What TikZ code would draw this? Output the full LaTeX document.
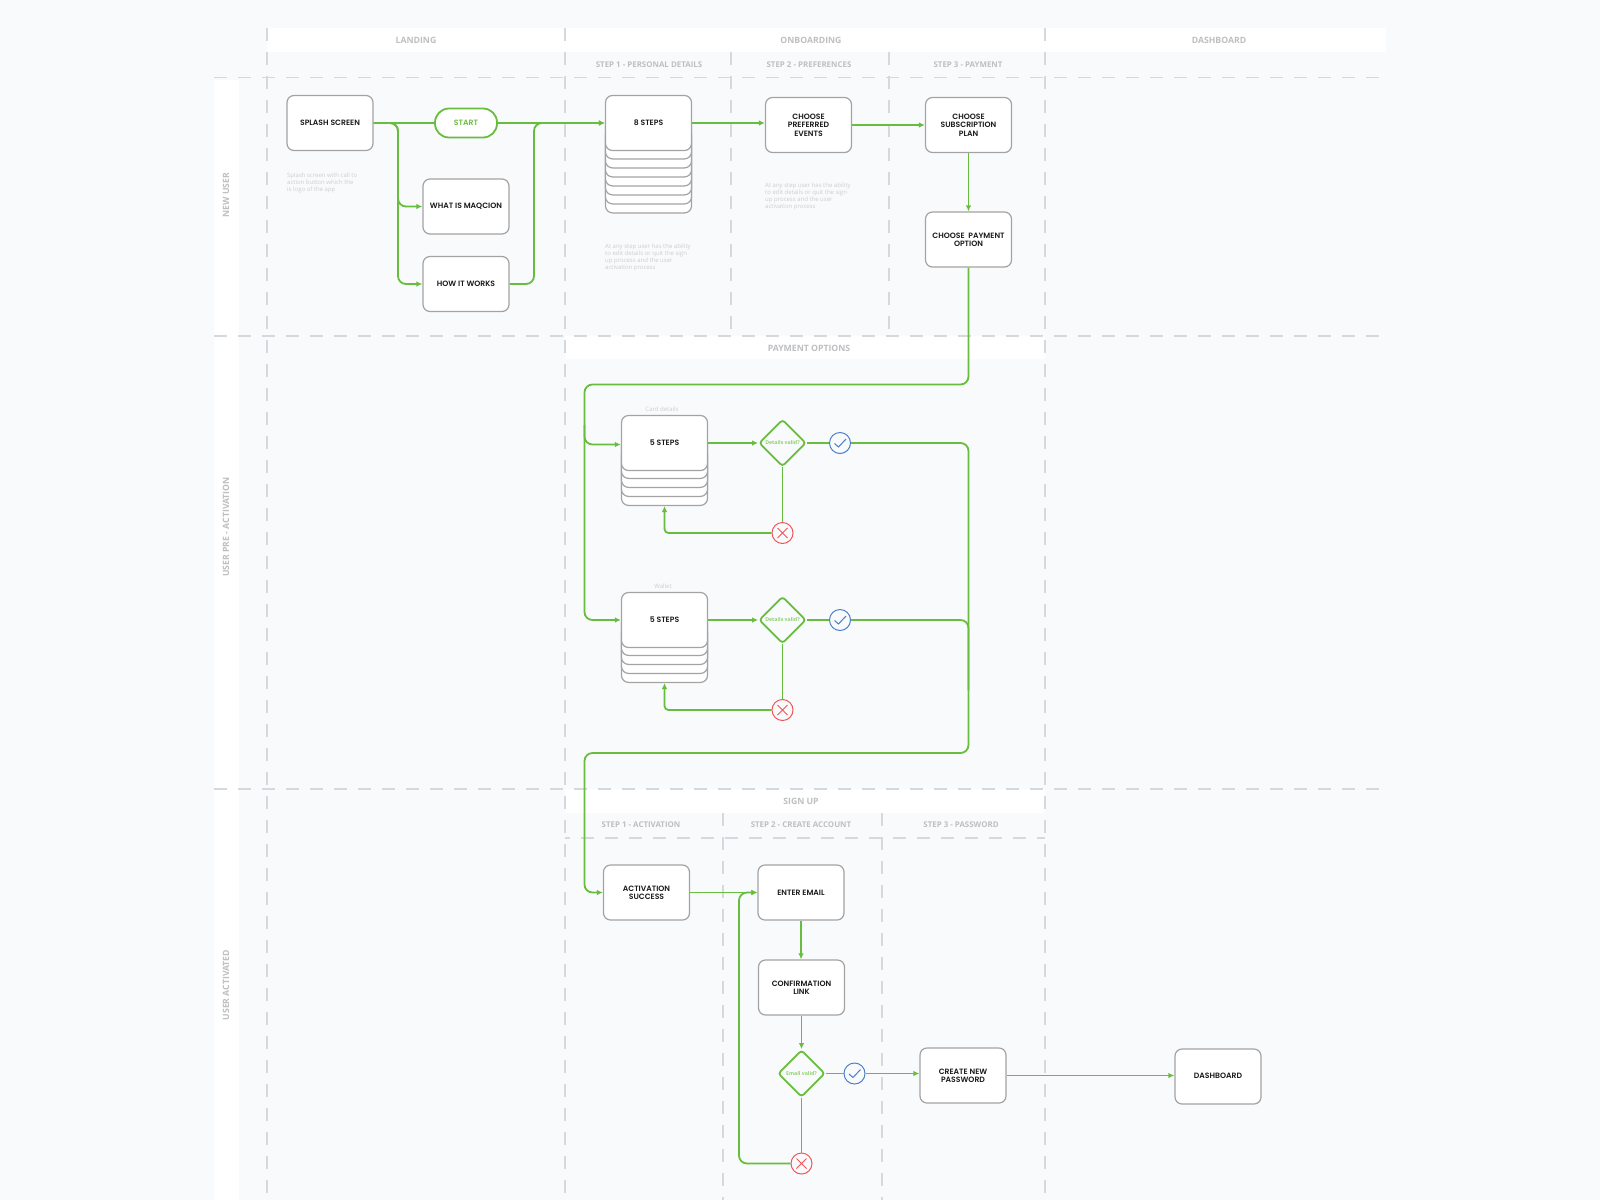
\documentclass[tikz,border=0pt]{standalone}
\usepackage{fontspec}
\setmainfont{Open Sans}
\newfontfamily\boxfont{Poppins}[BoldFont={Poppins SemiBold}]
\usetikzlibrary{arrows.meta,shapes.geometric}
\definecolor{bgc}{HTML}{F9FAFC}
\definecolor{dashc}{HTML}{D6D8DB}
\definecolor{headc}{HTML}{BDBFC1}
\definecolor{descc}{HTML}{CBCDCF}
\definecolor{edgec}{HTML}{A3A3A3}
\definecolor{flowc}{HTML}{68BD3E}
\definecolor{flowl}{HTML}{8FD06E}
\definecolor{bluec}{HTML}{4A7FCB}
\definecolor{redc}{HTML}{F0555A}
\tikzset{
  band/.style={fill=white,draw=none},
  guide/.style={draw=dashc,line width=1.2pt,dash pattern=on 13pt off 11pt},
  head/.style={text=headc,font=\fontsize{8.7}{10}\selectfont\bfseries,inner sep=0pt},
  subhead/.style={text=headc,font=\fontsize{7.9}{10}\selectfont\bfseries,inner sep=0pt},
  lanehead/.style={head,rotate=90},
  desc/.style={text=descc,font=\fontsize{6}{7}\selectfont,inner sep=0pt,align=left,anchor=north west},
  smallcap/.style={text=descc,font=\fontsize{6}{7}\selectfont,inner sep=0pt},
  card/.style={draw=edgec,fill=white,line width=1.2pt,rounded corners=7pt,minimum width=86pt,minimum height=55pt,
    inner sep=0pt,align=center,font=\boxfont\fontsize{7.7}{8.3}\selectfont\bfseries,text=black!90},
  plate/.style={draw=edgec,fill=white,line width=1.2pt,rounded corners=7pt,minimum width=86pt,inner sep=0pt},
  pill/.style={draw=flowc,fill=white,line width=1.8pt,rounded corners=14pt,minimum width=62pt,minimum height=29pt,
    inner sep=0pt,text=flowc,font=\boxfont\fontsize{7.7}{9}\selectfont\bfseries},
  decision/.style={diamond,aspect=1,draw=flowc,fill=bgc,line width=1.8pt,rounded corners=3pt,minimum width=47pt,minimum height=47pt,
    inner sep=0pt,text=flowl,font=\fontsize{5.2}{7}\selectfont\bfseries},
  okmark/.style={circle,draw=bluec,fill=bgc,line width=1pt,minimum size=21pt,inner sep=0pt,
    path picture={\draw[bluec,line width=1pt] ([shift={(-5.5,0.5)}]path picture bounding box.center)--++(4,3.5)--++(7.5,-8);}},
  badmark/.style={circle,draw=redc,fill=bgc,line width=1pt,minimum size=21pt,inner sep=0pt,
    path picture={\draw[redc,line width=1pt] ([shift={(-5,-5)}]path picture bounding box.center)--++(10,10) ([shift={(5,-5)}]path picture bounding box.center)--++(-10,10);}},
  flow/.style={draw=flowc,line width=1.8pt,rounded corners=8pt},
  flowto/.style={flow,-{Latex[length=6pt,width=5.5pt]}},
}
\begin{document}
\begin{tikzpicture}[x=1pt,y=-1pt]
\useasboundingbox (0,0) rectangle (1600,1200);
\fill[bgc] (0,0) rectangle (1600,1200);
% bands
\fill[band] (267,28) rectangle (1386,52);
\fill[band] (214,80) rectangle (239,1200);
\fill[band] (565,336) rectangle (1045,359);
\fill[band] (565,789) rectangle (1045,813);
% guides
\draw[guide] (214,77.5) -- (1386,77.5);
\draw[guide] (214,336) -- (1381,336);
\draw[guide] (214,789) -- (1381,789);
\draw[guide,dash phase=8pt] (565,838) -- (1045,838);
\draw[guide] (267,28) -- (267,1200);
\draw[guide] (565,28) -- (565,1200);
\draw[guide] (1045,28) -- (1045,1200);
\draw[guide] (731,52) -- (731,336);
\draw[guide] (889,52) -- (889,336);
\draw[guide] (723,813) -- (723,1200);
\draw[guide] (882,813) -- (882,1200);
% headers
\node[head] (hLanding) at (416,40) {LANDING};
\node[head] (hOnboarding) at (811,40) {ONBOARDING};
\node[head] (hDashboard) at (1219,40) {DASHBOARD};
\node[subhead] (hS1) at (649,65) {STEP 1 - PERSONAL DETAILS};
\node[subhead] (hS2) at (809,65) {STEP 2 - PREFERENCES};
\node[subhead] (hS3) at (968,65) {STEP 3 - PAYMENT};
\node[head] (hPay) at (809,348.5) {PAYMENT OPTIONS};
\node[head] (hSign) at (801,801) {SIGN UP};
\node[subhead] (hA1) at (641,825) {STEP 1 - ACTIVATION};
\node[subhead] (hA2) at (801,825) {STEP 2 - CREATE ACCOUNT};
\node[subhead] (hA3) at (961,825) {STEP 3 - PASSWORD};
\node[lanehead] (lNew) at (226,195) {NEW USER};
\node[lanehead] (lPre) at (226,527) {USER PRE - ACTIVATION};
\node[lanehead] (lAct) at (226,985) {USER ACTIVATED};
% descriptions
\node[desc] (dSplash) at (287,173) {Splash screen with call to\\action button which the\\is logo of the app};
\node[desc] (dSteps) at (605,244) {At any step user has the ability\\to edit details or quit the sign\\up process and the user\\activation process};
\node[desc] (dPref) at (765,182.5) {At any step user has the ability\\to edit details or quit the sign\\up process and the user\\activation process};
\node[smallcap] (cCard) at (662,409) {Card details};
\node[smallcap] (cWallet) at (663,586) {Wallet};
% stacks
\foreach \i/\b in {7/213.5,6/204.5,5/195.5,4/186.5,3/177.5,2/168.5,1/159.5}
  \node[plate,minimum height=40pt,anchor=south] (stackA\i) at (648.5,\b) {};
\foreach \i/\b in {4/506,3/497,2/488,1/479}
  \node[plate,minimum height=40pt,anchor=south] (stackB\i) at (664.5,\b) {};
\foreach \i/\b in {4/683,3/674,2/665,1/656}
  \node[plate,minimum height=40pt,anchor=south] (stackC\i) at (664.5,\b) {};
% cards
\node[card] (splash) at (330,123) {SPLASH SCREEN};
\node[pill] (start) at (466,123) {START};
\node[card] (what) at (466,206.5) {WHAT IS MAQCION};
\node[card] (how) at (466,284) {HOW IT WORKS};
\node[card] (eight) at (648.5,123) {8 STEPS};
\node[card] (pref) at (808.5,125) {CHOOSE\\PREFERRED\\EVENTS};
\node[card] (plan) at (968.5,125) {CHOOSE\\SUBSCRIPTION\\PLAN};
\node[card] (payopt) at (968.5,239.5) {CHOOSE~ PAYMENT\\OPTION};
\node[card] (cardsteps) at (664.5,443) {5 STEPS};
\node[card] (walletsteps) at (664.5,620) {5 STEPS};
\node[card] (activ) at (646.5,892.5) {ACTIVATION\\SUCCESS};
\node[card] (email) at (801,892.5) {ENTER EMAIL};
\node[card] (confirm) at (801.5,987.5) {CONFIRMATION\\LINK};
\node[card] (newpass) at (963,1075.5) {CREATE NEW\\PASSWORD};
\node[card] (dash) at (1218,1076.5) {\raisebox{1.5pt}{DASHBOARD}};
% decisions
\node[decision] (dCardD) at (782.5,443) {Details valid?};
\node[okmark] (okA) at (840,443) {};
\node[badmark] (noA) at (782.5,533) {};
\node[decision] (dWallD) at (782.5,620) {Details valid?};
\node[okmark] (okB) at (840,620) {};
\node[badmark] (noB) at (782.5,710) {};
\node[decision] (dMail) at (801.5,1073.5) {Email valid?};
\node[okmark] (okC) at (854.5,1073.5) {};
\node[badmark] (noC) at (801.5,1163.5) {};
% bus coordinates
\coordinate (busL) at (398,200);
\coordinate (busR) at (534,200);
\coordinate (busPayY) at (800,384.5);
\coordinate (busPayX) at (584.5,500);
\coordinate (busRetX) at (968.5,500);
\coordinate (busRetY) at (800,753);
\coordinate (busMail) at (739,1000);
\coordinate (cardIn) at ([yshift=-1.5pt]cardsteps.west);
\coordinate (cardTap) at (584.5,425);
\coordinate (walletTap) at (968.5,690);
\coordinate (dashIn) at (dash.west |- newpass.east);
% connectors
\draw[flow] (splash.east) -- (start.west);
\draw[flowto] (splash.east) -- (splash.east -| busL) -- (what.west -| busL) -- (what.west);
\draw[flowto] (splash.east) -- (splash.east -| busL) -- (how.west -| busL) -- (how.west);
\draw[flowto] (start.east) -- (start.east -| eight.west);
\draw[flowto] (how.east) -- (how.east -| busR) -- (eight.west -| busR) -- (eight.west);
\draw[flowto] (eight.east) -- (pref.west |- eight.east);
\draw[flowto] (pref.east) -- (plan.west);
\draw[flowto] (plan.south) -- (payopt.north);
\draw[flowto] (payopt.south) -- (payopt.south |- busPayY) -- (busPayX |- busPayY) -- (busPayX |- walletsteps.west) -- (walletsteps.west);
\draw[flowto] (cardTap) -- (cardIn -| busPayX) -- (cardIn);
\draw[flowto] (cardsteps.east) -- (dCardD.west);
\draw[flowto] (walletsteps.east) -- (dWallD.west);
\draw[flow] (dCardD.east) -- (okA.west);
\draw[flow] (dWallD.east) -- (okB.west);
\draw[flow] (dCardD.south) -- (noA.north);
\draw[flow] (dWallD.south) -- (noB.north);
\draw[flowto,rounded corners=4pt] (noA.west) -- (stackB4.south |- noA.west) -- (stackB4.south);
\draw[flowto,rounded corners=4pt] (noB.west) -- (stackC4.south |- noB.west) -- (stackC4.south);
\draw[flow] (okB.east) -- (okB.east -| busRetX) -- (walletTap);
\draw[flowto] (okA.east) -- (okA.east -| busRetX) -- (busRetX |- busRetY) -- (busPayX |- busRetY) -- (busPayX |- activ.west) -- (activ.west);
\draw[flowto] (activ.east) -- (email.west);
\draw[flowto] (email.south) -- (email.south |- confirm.north);
\draw[flowto] (confirm.south) -- (dMail.north);
\draw[flow] (dMail.east) -- (okC.west);
\draw[flow] (dMail.south) -- (noC.north);
\draw[flowto] (okC.east) -- (newpass.west |- okC.east);
\draw[flowto] (newpass.east) -- (dashIn);
\draw[flowto] (noC.west) -- (noC.west -| busMail) -- (email.west -| busMail) -- (email.west);
\end{tikzpicture}
\end{document}
